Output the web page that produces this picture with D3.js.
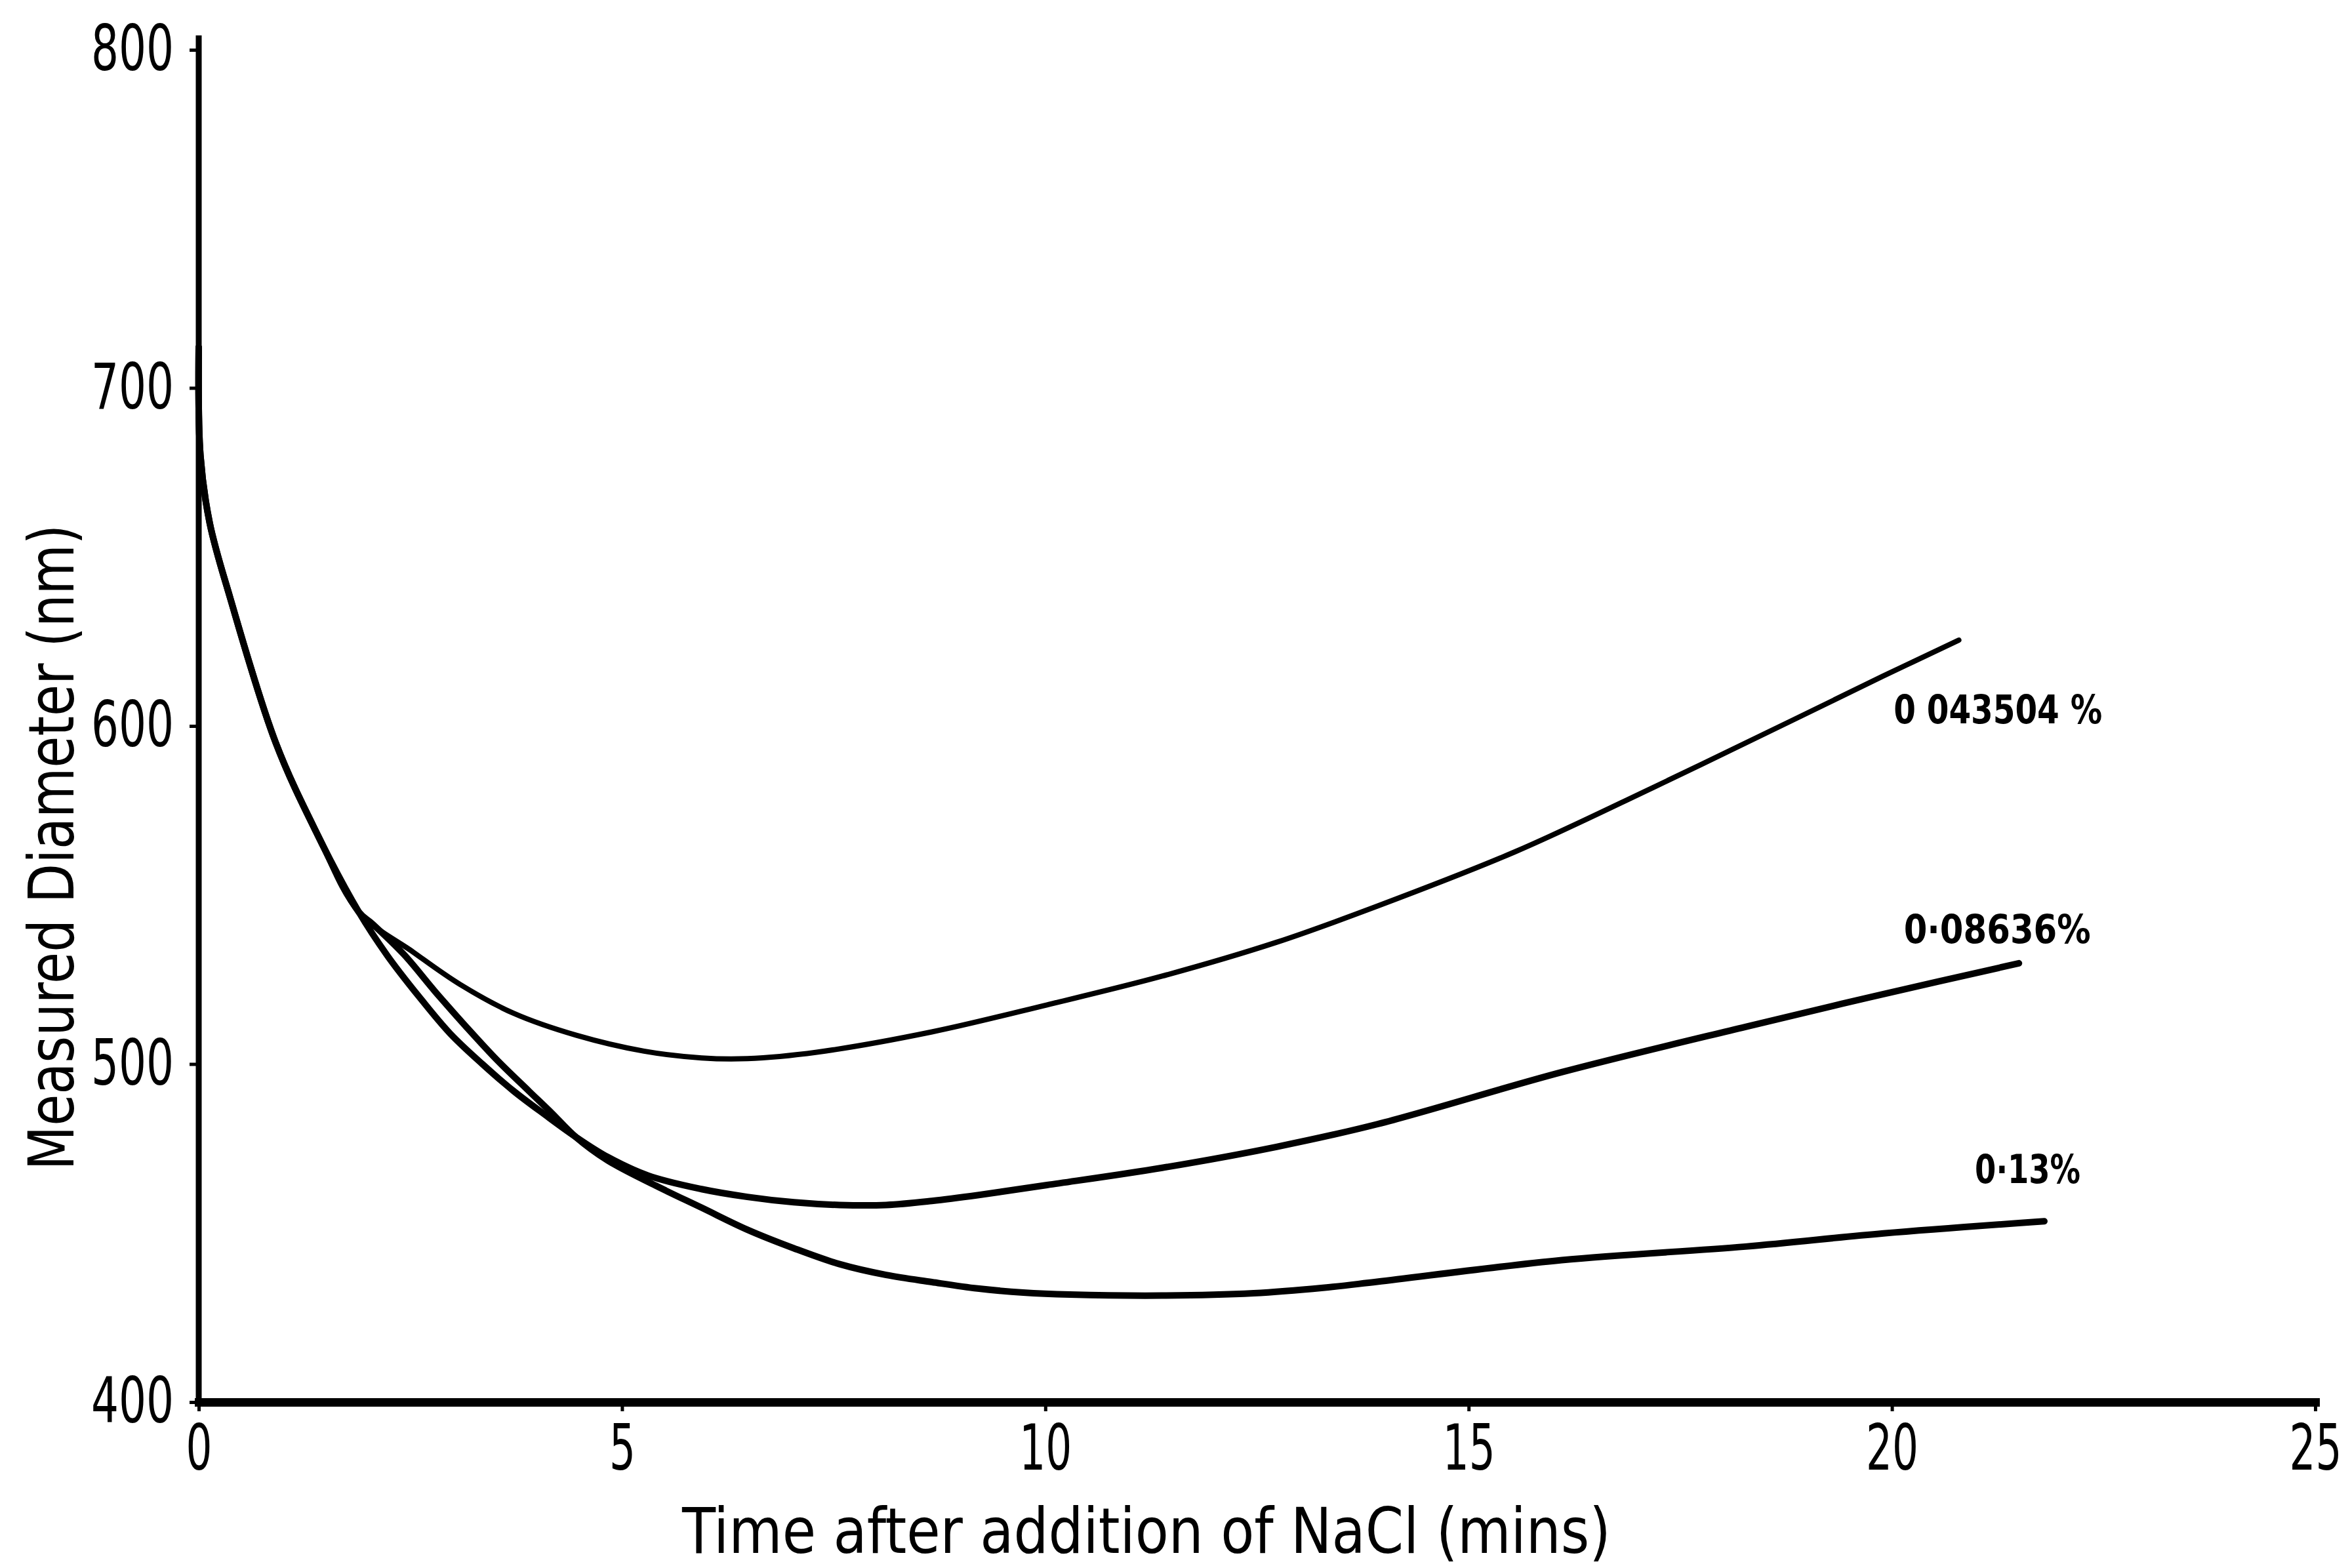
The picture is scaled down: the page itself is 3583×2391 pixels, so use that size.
<!DOCTYPE html>
<html lang="en">
  <head>
    <meta charset="UTF-8" />
    <title>Measured Diameter vs Time after addition of NaCl</title>
    <script src="https://d3js.org/d3.v7.min.js"></script>
    <style>
      body {
        margin: 0;
        background-color: #fff;
      }
      svg {
        display: block;
        background-color: #fff;
      }
      text {
        font-family: "DejaVu Sans Condensed", "DejaVu Sans", sans-serif;
        fill: #000;
      }
      .tick text {
        font-size: 96px;
      }
      .curve {
        fill: none;
        stroke: #000;
        stroke-linecap: round;
        stroke-linejoin: round;
      }
      .series-label {
        font-size: 60px;
        font-weight: bold;
      }
      .axis-title {
        font-size: 96px;
      }
    </style>
  </head>
  <body>
    <svg id="chart"></svg>
    <script>
      // values: time in minutes, diameter in nm
      const timeA = [0, 0.02, 0.13, 0.37, 0.91, 1.4, 1.89, 2.54, 3.09, 3.72, 4.46, 5.26, 5.94, 6.48, 7.3, 8.66, 10.02, 11.38, 12.73, 13.92, 15.55, 17.18, 18.81, 19.9, 20.79];
      const diamA = [712, 680, 660, 638, 595, 568, 545, 533, 523.5, 515, 508.5, 503.8, 501.8, 501.6, 503.5, 509.5, 517.5, 526, 536, 546.7, 562.8, 581.8, 601.5, 614.8, 625.4];

      const timeB = [0, 0.02, 0.13, 0.37, 0.91, 1.4, 1.89, 2.23, 2.6, 2.97, 3.35, 3.72, 4.09, 4.45, 4.83, 5.31, 5.94, 6.48, 7.03, 7.57, 8.12, 8.66, 9.2, 10.02, 11.38, 12.73, 13.92, 16.1, 18.27, 19.9, 21.5];
      const diamB = [712, 680, 660, 638, 595, 568, 545, 532, 520, 509, 500, 492, 485, 478.5, 472.5, 467, 463, 460.7, 459.1, 458.3, 458.3, 459.5, 461.2, 464.2, 469.3, 475.5, 482.2, 497.6, 511, 520.7, 529.8];

      const timeC = [0, 0.02, 0.13, 0.37, 0.91, 1.4, 1.89, 2.05, 2.42, 2.79, 3.16, 3.53, 3.9, 4.17, 4.45, 4.83, 5.4, 5.94, 6.48, 7.03, 7.57, 8.12, 8.66, 9.2, 9.74, 10.29, 11.38, 12.46, 13.28, 13.92, 16.1, 18.27, 19.9, 21.8];
      const diamC = [712, 680, 660, 638, 595, 568, 545, 541.5, 532.5, 521.5, 511, 501, 492, 485.5, 478.5, 471.5, 464, 457.5, 451, 445.5, 440.8, 437.6, 435.5, 433.6, 432.4, 431.8, 431.5, 432.2, 433.8, 435.6, 442, 446, 449.9, 453.5];

      const seriesNames = ["0 043504 %", "0·08636%", "0·13%"];
      const xTicks = [0, 5, 10, 15, 20, 25];
      const yTicks = [400, 500, 600, 700, 800];
      const xTitle = "Time after addition of NaCl (mins)";
      const yTitle = "Measured Diameter (nm)";

      const width = 3583;
      const height = 2391;

      const svg = d3
        .select("#chart")
        .attr("width", width)
        .attr("height", height);

      const x = d3.scaleLinear().domain([0, 25]).range([303, 3530]);
      const y = d3.scaleLinear().domain([400, 800]).range([2138, 76]);

      const line = d3
        .line()
        .x((d) => x(d[0]))
        .y((d) => y(d[1]))
        .curve(d3.curveCatmullRom.alpha(0.5));

      const series = [
        { name: seriesNames[0], pts: d3.zip(timeA, diamA), sw: 8 },
        { name: seriesNames[1], pts: d3.zip(timeB, diamB), sw: 10 },
        { name: seriesNames[2], pts: d3.zip(timeC, diamC), sw: 10 },
      ];

      // the original uses narrow stencil lettering: squeeze text horizontally
      // to a wanted width (moves x/y into the transform so the box stays true)
      function squeeze(sel, goal, rotate = 0) {
        sel.each(function (d, i) {
          const t = d3.select(this);
          const w = this.getComputedTextLength();
          const want = typeof goal === "function" ? goal.call(this, d, i) : goal;
          const x0 = +t.attr("x") || 0;
          const y0 = +t.attr("y") || 0;
          t.attr("x", null)
            .attr("y", null)
            .attr(
              "transform",
              `translate(${x0},${y0}) rotate(${rotate}) scale(${want / w},1)`
            );
        });
      }

      // x axis
      svg
        .append("g")
        .attr("transform", `translate(0,${y(400)})`)
        .call(
          d3
            .axisBottom(x)
            .tickValues(xTicks)
            .tickSize(14)
            .tickSizeOuter(0)
            .tickPadding(21)
            .tickFormat(d3.format("d"))
        )
        .call((g) =>
          g
            .select(".domain")
            .attr("stroke", "#000")
            .attr("stroke-width", 13)
            .attr("stroke-linecap", "square")
        )
        .call((g) => g.selectAll(".tick line").attr("stroke-width", 5))
        .call((g) =>
          g.selectAll(".tick text").attr("font-family", null).attr("font-size", null)
        )
        .call((g) =>
          squeeze(g.selectAll(".tick text"), function () {
            return this.textContent.length * 40;
          })
        );

      // y axis
      const yAxis = svg
        .append("g")
        .attr("transform", `translate(${x(0)},0)`)
        .call(
          d3
            .axisLeft(y)
            .tickValues(yTicks)
            .tickSize(14)
            .tickSizeOuter(0)
            .tickPadding(24)
        )
        .call((g) => g.select(".domain").remove())
        .call((g) => g.selectAll(".tick line").attr("stroke-width", 5))
        .call((g) =>
          g.selectAll(".tick text").attr("font-family", null).attr("font-size", null)
        )
        .call((g) =>
          squeeze(g.selectAll(".tick text"), function () {
            return this.textContent.length * 42;
          })
        );

      yAxis
        .append("line")
        .attr("x1", 0)
        .attr("x2", 0)
        .attr("y1", y(800) - 22)
        .attr("y2", y(400))
        .attr("stroke", "#000")
        .attr("stroke-width", 9);

      // curves
      svg
        .selectAll("path.curve")
        .data(series)
        .enter()
        .append("path")
        .attr("class", "curve")
        .attr("stroke-width", (d) => d.sw)
        .attr("d", (d) => line(d.pts));

      // series labels, anchored in data units near the line ends
      const labelSpots = [
        { t: 20.02, v: 600.8, w: 318 },
        { t: 20.14, v: 535.8, w: 285 },
        { t: 20.98, v: 464.8, w: 161 },
      ];
      svg
        .selectAll("text.series-label")
        .data(series)
        .enter()
        .append("text")
        .attr("class", "series-label")
        .attr("x", (d, i) => x(labelSpots[i].t))
        .attr("y", (d, i) => y(labelSpots[i].v))
        .text((d) => d.name)
        .call((sel) => squeeze(sel, (d, i) => labelSpots[i].w));

      // axis titles
      svg
        .append("text")
        .attr("class", "axis-title")
        .attr("x", 1040)
        .attr("y", 2368)
        .text(xTitle)
        .call((sel) => squeeze(sel, 1416));

      svg
        .append("text")
        .attr("class", "axis-title")
        .attr("x", 112)
        .attr("y", 1292)
        .attr("text-anchor", "middle")
        .text(yTitle)
        .call((sel) => squeeze(sel, 985, -90));
    </script>
  </body>
</html>
